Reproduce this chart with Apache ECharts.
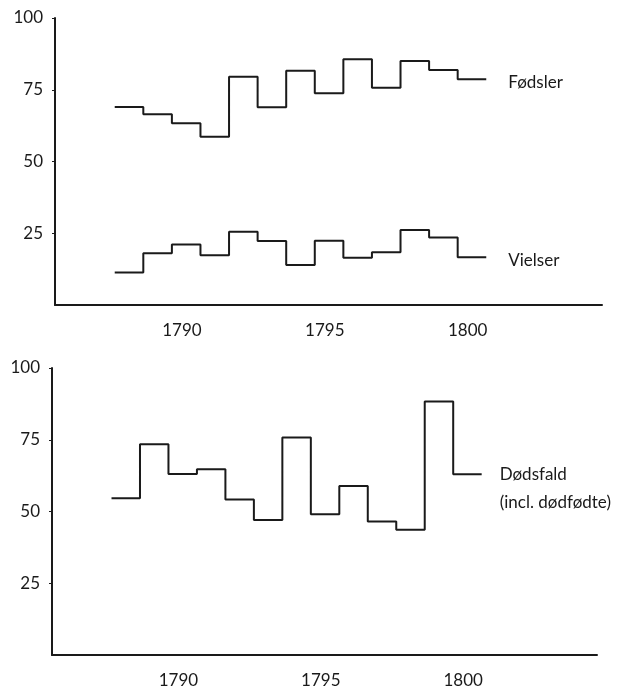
<!DOCTYPE html>
<html>
<head>
<meta charset="utf-8">
<script src="https://cdn.jsdelivr.net/npm/echarts@6/dist/echarts.min.js"></script>
<style>
    html, body { margin: 0; padding: 0; background: #fff; }
    #chart { width: 629px; height: 693px; }
</style>
</head>
<body>
<div id="chart"></div>
<script>
    // one value per year
    const years = [1788, 1789, 1790, 1791, 1792, 1793, 1794, 1795, 1796, 1797, 1798, 1799, 1800];
    const fodsler = [69, 66.5, 63.3, 58.6, 79.5, 68.9, 81.6, 73.8, 85.6, 75.7, 85.0, 81.9, 78.7];
    const vielser = [11.3, 18.0, 21.1, 17.3, 25.5, 22.3, 13.9, 22.4, 16.5, 18.4, 26.1, 23.5, 16.6];
    const dodsfald = [54.6, 73.4, 63.1, 64.7, 54.2, 47.0, 75.8, 49.0, 58.9, 46.5, 43.6, 88.3, 63.0];
    const xTicks = [1790, 1795, 1800];

    const ink = '#1a1a1a';
    const font = 'Lato';

    // each year drawn as a flat step; repeat the last value to close the final step
    function stepData(vals) {
        const pts = years.map((y, i) => [y - 0.35, vals[i]]);
        pts.push([years[years.length - 1] + 0.65, vals[vals.length - 1]]);
        return pts;
    }

    function xAxis(idx) {
        return {
            type: 'value', gridIndex: idx, min: 1785.56, max: 1804.7,
            axisLine: { lineStyle: { color: ink, width: 2 } },
            axisTick: { show: false },
            splitLine: { show: false },
            axisLabel: {
                customValues: xTicks, color: ink, fontFamily: font, fontSize: 17, margin: 17,
                formatter: v => String(v)
            }
        };
    }

    function yAxis(idx) {
        return {
            type: 'value', gridIndex: idx, min: 0, max: 100, interval: 25,
            axisLine: { show: true, lineStyle: { color: ink, width: 2 } },
            axisTick: { show: true, length: 3, lineStyle: { color: ink } },
            splitLine: { show: false },
            axisLabel: { showMinLabel: false, color: ink, fontFamily: font, fontSize: 17, margin: 12 }
        };
    }

    function stepSeries(name, vals, idx, label) {
        return {
            name: name, type: 'line', step: 'end',
            xAxisIndex: idx, yAxisIndex: idx,
            data: stepData(vals),
            symbol: 'none', silent: true,
            lineStyle: { color: ink, width: 2 },
            endLabel: Object.assign({
                show: true, formatter: name, distance: 22,
                color: ink, fontFamily: font, fontSize: 17
            }, label || {})
        };
    }

    const chart = echarts.init(document.getElementById('chart'));
    chart.setOption({
        animation: false,
        grid: [
            { left: 55, top: 18, width: 547, height: 287 },
            { left: 52, top: 368, width: 545, height: 287 }
        ],
        xAxis: [xAxis(0), xAxis(1)],
        yAxis: [yAxis(0), yAxis(1)],
        series: [
            stepSeries('Fødsler', fodsler, 0, { offset: [0, 3] }),
            stepSeries('Vielser', vielser, 0, { offset: [0, 3] }),
            stepSeries('Dødsfald', dodsfald, 1, {
                formatter: 'Dødsfald\n(incl. dødfødte)',
                distance: 18, lineHeight: 28, offset: [0, 14]
            })
        ]
    });
</script>
</body>
</html>
